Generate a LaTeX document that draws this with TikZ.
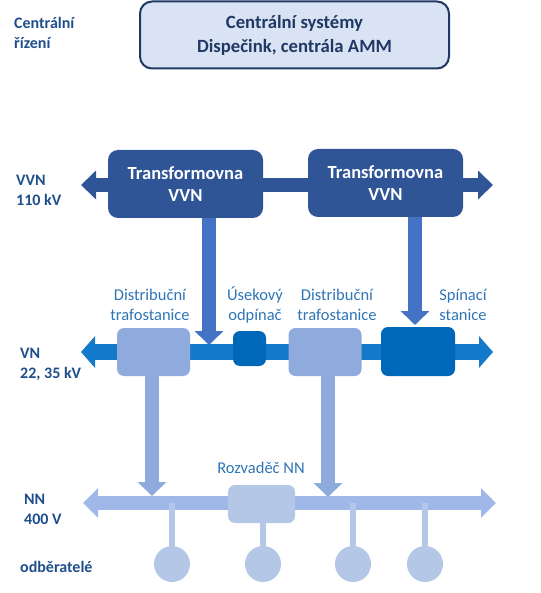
\documentclass[tikz,border=0pt]{standalone}
\usepackage{fontspec}
\setmainfont{Carlito}
\usetikzlibrary{arrows.meta,calc}
\definecolor{navy}{HTML}{1F3864}
\definecolor{lblbold}{HTML}{1F4E8C}
\definecolor{lbl}{HTML}{2E75B6}
\definecolor{trbox}{HTML}{2F5597}
\definecolor{trarrow}{HTML}{4472C4}
\definecolor{vnbus}{HTML}{1479C9}
\definecolor{vnbox}{HTML}{0068B8}
\definecolor{dtbox}{HTML}{8FAADC}
\definecolor{nnbus}{HTML}{A0B8E8}
\definecolor{nnbox}{HTML}{B4C7E7}
\definecolor{cbox}{HTML}{DAE3F3}
\tikzset{
  boldlabel/.style={anchor=west, align=left, text=lblbold, font=\fontsize{16}{20}\selectfont\bfseries, inner sep=0pt},
  plainlabel/.style={align=center, text=lbl, font=\fontsize{16.5}{19.5}\selectfont, inner sep=0pt},
  trstyle/.style={fill=trbox, rounded corners=10pt, minimum width=155pt, minimum height=68pt, inner sep=0pt, align=center, text=white, font=\fontsize{18.5}{22}\selectfont\bfseries},
  dtstyle/.style={fill=dtbox, rounded corners=7pt, minimum width=73pt, minimum height=48pt, inner sep=0pt},
  vnboxstyle/.style={fill=vnbox, rounded corners=7pt, inner sep=0pt},
  nnboxstyle/.style={fill=nnbox, rounded corners=7pt, minimum width=67pt, minimum height=38pt, inner sep=0pt},
  consumer/.style={circle, fill=nnbox, minimum size=36pt, inner sep=0pt},
  downarrow/.style={line width=14pt, -{Triangle[length=14pt,width=28pt]}},
  stub/.style={nnbox, line width=6pt}
}
\begin{document}
\begin{tikzpicture}[x=1pt,y=-1pt]
\useasboundingbox (0,0) rectangle (540,593);

% central box
\node[draw=navy, line width=2pt, fill=cbox, rounded corners=12pt, minimum width=309pt, minimum height=67pt, inner sep=0pt, align=center, text=navy, font=\fontsize{18.7}{24}\selectfont\bfseries] (central) at (294.5,35) {Centrální systémy\\Dispečink, centrála AMM};

% left labels
\node[boldlabel] (lcr) at (14,33) {Centrální\\řízení};
\node[boldlabel] (lvvn) at (16,190) {VVN\\110 kV};
\node[boldlabel] (lvn) at (20,364) {VN\\22, 35 kV};
\node[boldlabel] (lnn) at (24,509) {NN\\400 V};
\node[boldlabel] (lodb) at (20,567) {odběratelé};

% bus end points
\coordinate (vvnL) at (81,185);
\coordinate (vvnR) at (493,185);
\coordinate (vnL) at (81,352);
\coordinate (vnR) at (493,352);
\coordinate (nnL) at (83,503);
\coordinate (nnR) at (496,503);

% buses
\draw[trbox, line width=14pt, {Triangle[length=15pt,width=28pt]}-{Triangle[length=15pt,width=28pt]}] (vvnL) -- (vvnR);
\draw[vnbus, line width=16pt, {Triangle[length=14pt,width=31pt]}-{Triangle[length=14pt,width=31pt]}] (vnL) -- (vnR);
\draw[nnbus, line width=14pt, {Triangle[length=15pt,width=29pt]}-{Triangle[length=15pt,width=29pt]}] (nnL) -- (nnR);

% VVN boxes
\node[trstyle] (tr1) at (185.5,184) {Transformovna\\VVN};
\node[trstyle] (tr2) at (385.5,183) {Transformovna\\VVN};

% VN boxes
\node[dtstyle] (dt1) at (153.5,352) {};
\node[vnboxstyle, minimum width=33pt, minimum height=35pt] (usek) at (249.5,348.5) {};
\node[dtstyle] (dt2) at (325,352) {};
\node[vnboxstyle, minimum width=74pt, minimum height=49pt] (spin) at (418,351.5) {};

% VN labels
\node[plainlabel] (ldt1) at (150,305) {Distribuční\\trafostanice};
\node[plainlabel] (lusek) at (255,305) {Úsekový\\odpínač};
\node[plainlabel] (ldt2) at (337,305) {Distribuční\\trafostanice};
\node[plainlabel] (lspin) at (463,305) {Spínací\\stanice};

% NN box
\node[nnboxstyle] (rozv) at (261.5,504) {};
\node[plainlabel] (lrozv) at (261,468) {Rozvaděč NN};

% consumers
\node[consumer] (c1) at (172,564) {};
\node[consumer] (c2) at (263,564) {};
\node[consumer] (c3) at (353,564) {};
\node[consumer] (c4) at (425,564) {};

% arrow tips
\coordinate (tip1) at (209,345);
\coordinate (tip2) at (415,325);
\coordinate (tip3) at (152,496);
\coordinate (tip4) at (328,497);

% down arrows
\draw[downarrow, trarrow] (tr1.south -| tip1) -- (tip1);
\draw[downarrow, trarrow] (tr2.south -| tip2) -- (tip2);
\draw[downarrow, dtbox] (dt1.south -| tip3) -- (tip3);
\draw[downarrow, dtbox] (dt2.south -| tip4) -- (tip4);

% stubs
\draw[stub] (c1.north |- nnL) -- (c1.north);
\draw[stub] (c2.north |- rozv.south) -- (c2.north);
\draw[stub] (c3.north |- nnL) -- (c3.north);
\draw[stub] (c4.north |- nnL) -- (c4.north);
\end{tikzpicture}
\end{document}
